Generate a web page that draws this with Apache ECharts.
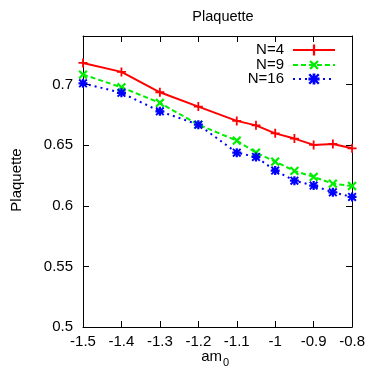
<!DOCTYPE html>
<html><head><meta charset="utf-8">
<script src="https://cdn.jsdelivr.net/npm/echarts@6/dist/echarts.min.js"></script>
<style>html,body{margin:0;padding:0;background:#fff}#c{width:368px;height:371px}</style>
</head><body><div id="c"></div>
<script>
var xValues = [-1.5, -1.4, -1.3, -1.2, -1.1, -1.05, -1.0, -0.95, -0.9, -0.85, -0.8];
var n4  = [0.7178, 0.7104, 0.6936, 0.6818, 0.6700, 0.6663, 0.6597, 0.6554, 0.6502, 0.6510, 0.6474];
var n9  = [0.7082, 0.6977, 0.6848, 0.6669, 0.6537, 0.6438, 0.6364, 0.6287, 0.6238, 0.6182, 0.6163];
var n16 = [0.7010, 0.6931, 0.6779, 0.6669, 0.6438, 0.6403, 0.6290, 0.6207, 0.6166, 0.6111, 0.6073];
var seriesNames = ['N=4', 'N=9', 'N=16'];
var titleText = 'Plaquette';
var yLabel = 'Plaquette';

function pairs(ys){ return xValues.map(function(x,i){ return [x, ys[i]]; }); }
var FONT = '"Liberation Sans", Arial, sans-serif';
var FS = 15;
var plus = 'path://M4,0H6V4H10V6H6V10H4V6H0V4H4Z';
var star = 'path://M0,3.75H10V6.25H0Z M3.75,0H6.25V10H3.75Z M0,1.5L1.5,0L10,8.5L8.5,10Z M8.5,0L10,1.5L1.5,10L0,8.5Z';

var chart = echarts.init(document.getElementById('c'), null, {renderer:'canvas'});
var axisCommon = {
  axisLine:{show:true, lineStyle:{color:'#000', width:1}},
  axisTick:{show:true, inside:true, length:6, lineStyle:{color:'#000'}},
  splitLine:{show:false}
};
function legendFor(i, top){
  return {orient:'vertical', right:32, top:top, align:'right', padding:0,
    itemWidth:42, itemHeight:14, itemGap:0,
    textStyle:{fontFamily:FONT, fontSize:FS, lineHeight:14, color:'#000', padding:[0,4,0,0]},
    data:[seriesNames[i]]};
}
chart.setOption({
  animation:false,
  textStyle:{fontFamily:FONT},
  title:{text:titleText, left:218, top:4, textAlign:'center',
    textStyle:{fontFamily:FONT, fontSize:14.5, fontWeight:'normal', color:'#000'}},
  grid:{left:83, right:14, top:36, bottom:44},
  legend:[legendFor(0, 42.5), legendFor(1, 57), legendFor(2, 71.5)],
  xAxis:[
    Object.assign({type:'value', min:-1.5, max:-0.8, interval:0.1, position:'bottom',
      axisLabel:{color:'#000', fontSize:FS, fontFamily:FONT, margin:7,
        formatter:function(v){return String(Math.round(v*10)/10);}}}, axisCommon),
    Object.assign({type:'value', min:-1.5, max:-0.8, interval:0.1, position:'top',
      axisLabel:{show:false}}, axisCommon)
  ],
  yAxis:[
    Object.assign({type:'value', min:0.5, max:0.74, interval:0.05, position:'left',
      axisLabel:{color:'#000', fontSize:FS, fontFamily:FONT, margin:10, showMaxLabel:false,
        formatter:function(v){return String(Math.round(v*100)/100);}}}, axisCommon),
    Object.assign({type:'value', min:0.5, max:0.74, interval:0.05, position:'right',
      axisLabel:{show:false}}, axisCommon)
  ],
  graphic:[
    {type:'text', x:17, y:180, rotation:Math.PI/2,
      style:{text:yLabel, font:FS+'px '+FONT, fill:'#000', textAlign:'center', textVerticalAlign:'middle'}},
    {type:'text', x:222, y:357,
      style:{text:'am', font:FS+'px '+FONT, fill:'#000', textAlign:'right', textVerticalAlign:'middle'}},
    {type:'text', x:223, y:363,
      style:{text:'0', font:'11px '+FONT, fill:'#000', textAlign:'left', textVerticalAlign:'middle'}}
  ],
  series:[
    {name:seriesNames[0], type:'line', data:pairs(n4), symbol:plus, symbolSize:9,
      color:'#ff0000', lineStyle:{color:'#ff0000', width:2, type:'solid'}, itemStyle:{color:'#ff0000'}},
    {name:seriesNames[1], type:'line', data:pairs(n9), symbol:plus, symbolRotate:45, symbolSize:11,
      color:'#00ee00', lineStyle:{color:'#00ee00', width:2, type:[5,3]}, itemStyle:{color:'#00ee00'}},
    {name:seriesNames[2], type:'line', data:pairs(n16), symbol:star, symbolSize:9,
      color:'#0000ff', lineStyle:{color:'#0000ff', width:2, type:[2,4]}, itemStyle:{color:'#0000ff'}}
  ]
});
</script></body></html>
